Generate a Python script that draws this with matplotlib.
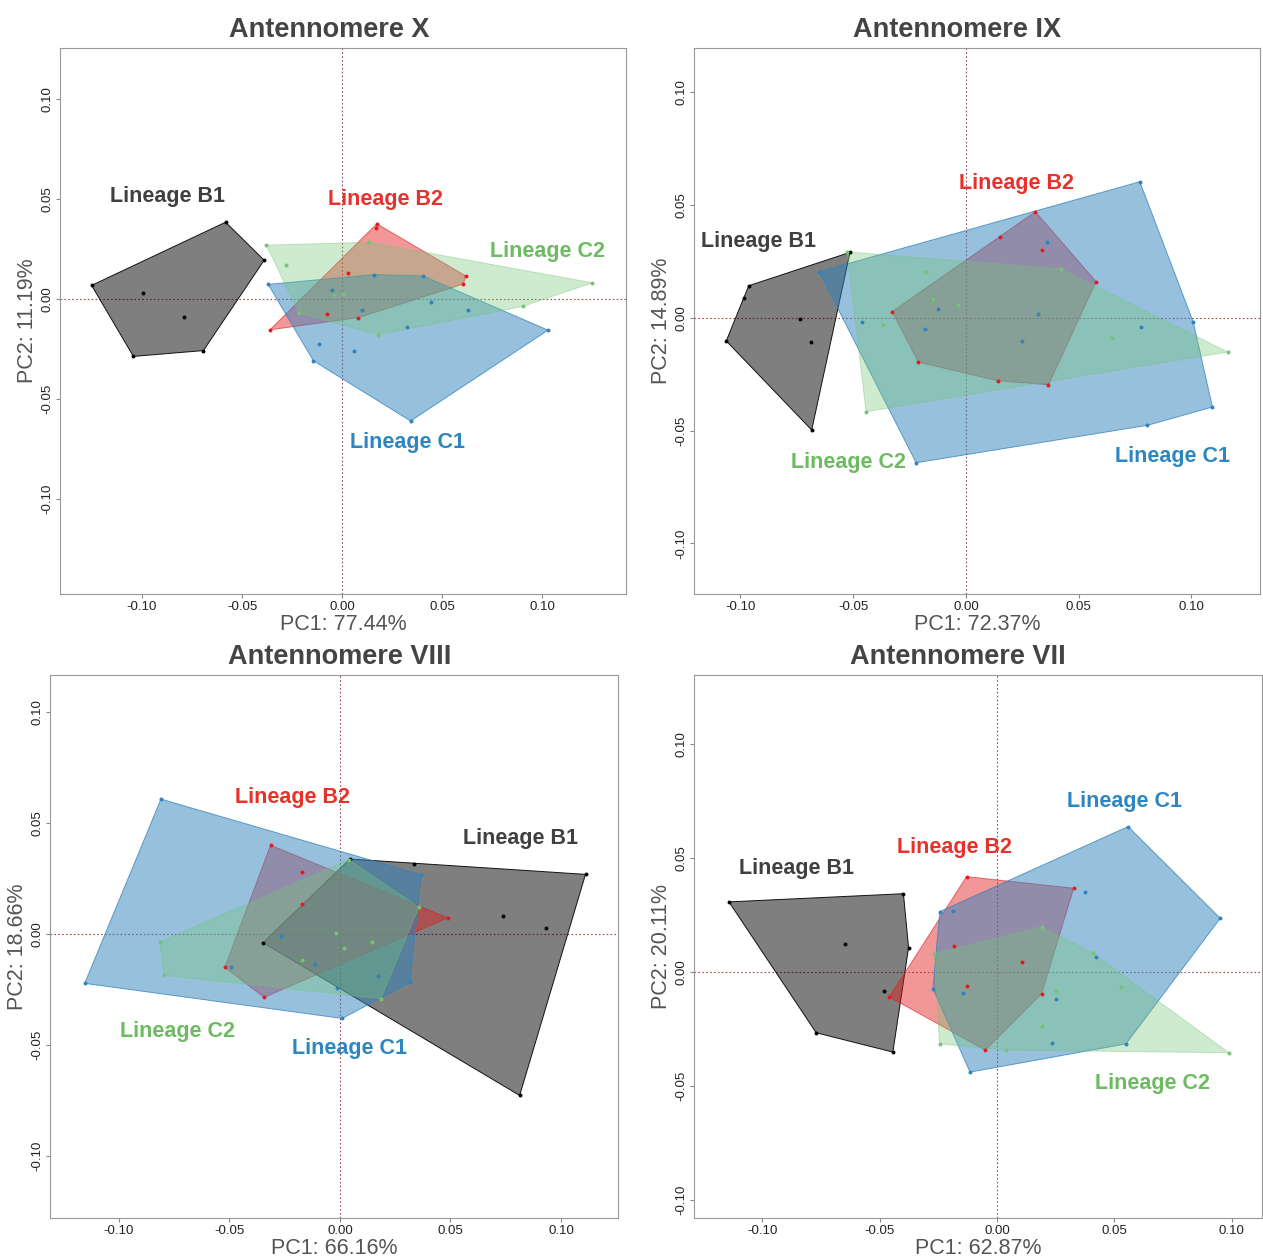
import numpy as np
import matplotlib
matplotlib.use('Agg')
import matplotlib.pyplot as plt

plt.rcParams['font.family'] = ['Liberation Sans', 'DejaVu Sans']

# Group names and colours (fill / label)
GROUPS = ['Lineage B1', 'Lineage B2', 'Lineage C1', 'Lineage C2']
FILL = {'Lineage B1': '#000000', 'Lineage B2': '#E41A1C',
        'Lineage C1': '#3182BD', 'Lineage C2': '#74C476'}
ALPHA = {'Lineage B1': 0.5, 'Lineage B2': 0.45, 'Lineage C1': 0.5, 'Lineage C2': 0.35}
EDGE_ALPHA = {'Lineage B1': 0.9, 'Lineage B2': 0.6, 'Lineage C1': 0.75, 'Lineage C2': 0.4}
TXT = {'Lineage B1': '#404040', 'Lineage B2': '#E8312A',
       'Lineage C1': '#2E86C1', 'Lineage C2': '#6DBB61'}

# ---- Antennomere X ----
x_b1 = [-0.1252, -0.0582, -0.0389, -0.0693, -0.1043, -0.0995, -0.0789]
y_b1 = [0.0068, 0.0384, 0.0194, -0.0258, -0.0287, 0.0032, -0.0090]
x_b2 = [0.0174, 0.0172, 0.0619, 0.0607, -0.0360, 0.0028, -0.0075, 0.0082]
y_b2 = [0.0376, 0.0355, 0.0115, 0.0075, -0.0154, 0.0132, -0.0077, -0.0093]
x_c1 = [-0.0369, 0.0161, 0.0406, 0.1030, 0.0343, -0.0143, -0.0052, 0.0446, 0.0632, 0.0326, -0.0115, 0.0059, 0.0100]
y_c1 = [0.0073, 0.0122, 0.0115, -0.0156, -0.0610, -0.0309, 0.0047, -0.0016, -0.0057, -0.0139, -0.0225, -0.0258, -0.0057]
x_c2 = [-0.0378, 0.0137, 0.1252, 0.0904, 0.0182, -0.0215, -0.0282, -0.0041, 0.0004]
y_c2 = [0.0269, 0.0284, 0.0081, -0.0037, -0.0179, -0.0070, 0.0169, 0.0019, 0.0026]
ant_x = {'Lineage B1': (x_b1, y_b1), 'Lineage B2': (x_b2, y_b2),
         'Lineage C1': (x_c1, y_c1), 'Lineage C2': (x_c2, y_c2)}
lab_x = {'Lineage B1': (-0.0875, 0.0511), 'Lineage B2': (0.0215, 0.0496),
         'Lineage C2': (0.1030, 0.0235), 'Lineage C1': (0.0325, -0.0718)}

# ---- Antennomere IX ----
x_b1 = [-0.0514, -0.0963, -0.0985, -0.1063, -0.0684, -0.0735, -0.0687]
y_b1 = [0.0291, 0.0143, 0.0090, -0.0102, -0.0497, -0.0003, -0.0106]
x_b2 = [0.0308, 0.0577, 0.0366, 0.0140, -0.0211, -0.0327, 0.0152, 0.0337]
y_b2 = [0.0471, 0.0161, -0.0296, -0.0278, -0.0196, 0.0028, 0.0358, 0.0300]
x_c1 = [0.0771, 0.1008, 0.1093, 0.0805, -0.0221, -0.0651, 0.0358, -0.0461, -0.0124, -0.0182, 0.0248, 0.0319, 0.0776]
y_c1 = [0.0604, -0.0018, -0.0395, -0.0476, -0.0642, 0.0205, 0.0336, -0.0016, 0.0039, -0.0049, -0.0103, 0.0018, -0.0039]
x_c2 = [-0.0527, 0.1160, -0.0443, -0.0179, 0.0421, -0.0147, -0.0034, -0.0369, 0.0648]
y_c2 = [0.0293, -0.0151, -0.0416, 0.0204, 0.0217, 0.0083, 0.0059, -0.0030, -0.0087]
ant_ix = {'Lineage B1': (x_b1, y_b1), 'Lineage B2': (x_b2, y_b2),
          'Lineage C1': (x_c1, y_c1), 'Lineage C2': (x_c2, y_c2)}
lab_ix = {'Lineage B1': (-0.0922, 0.0341), 'Lineage B2': (0.0222, 0.0594),
          'Lineage C2': (-0.0519, -0.0639), 'Lineage C1': (0.0914, -0.0616)}

# ---- Antennomere VIII ----
x_b1 = [0.0045, 0.0333, 0.1111, 0.0813, 0.0736, 0.0930, -0.0348]
y_b1 = [0.0338, 0.0317, 0.0269, -0.0727, 0.0080, 0.0028, -0.0039]
x_b2 = [-0.0314, 0.0488, -0.0343, -0.0521, -0.0172, -0.0172]
y_b2 = [0.0400, 0.0073, -0.0285, -0.0150, 0.0281, 0.0134]
x_c1 = [-0.0810, 0.0367, 0.0317, 0.0010, -0.1155, -0.0495, -0.0268, -0.0112, -0.0015, 0.0171]
y_c1 = [0.0608, 0.0267, -0.0218, -0.0380, -0.0222, -0.0150, -0.0008, -0.0134, -0.0242, -0.0189]
x_c2 = [-0.0816, -0.0796, 0.0184, 0.0357, 0.0040, -0.0019, 0.0020, 0.0146, -0.0172]
y_c2 = [-0.0036, -0.0186, -0.0291, 0.0120, 0.0335, 0.0003, -0.0064, -0.0037, -0.0118]
ant_viii = {'Lineage B1': (x_b1, y_b1), 'Lineage B2': (x_b2, y_b2),
            'Lineage C1': (x_c1, y_c1), 'Lineage C2': (x_c2, y_c2)}
lab_viii = {'Lineage B1': (0.0819, 0.0432), 'Lineage B2': (-0.0217, 0.0617),
            'Lineage C2': (-0.0733, -0.0441), 'Lineage C1': (0.0041, -0.0514)}

# ---- Antennomere VII ----
x_b1 = [-0.1143, -0.0399, -0.0377, -0.0444, -0.0771, -0.0647, -0.0483]
y_b1 = [0.0308, 0.0344, 0.0107, -0.0352, -0.0267, 0.0122, -0.0082]
x_b2 = [-0.0130, 0.0327, 0.0190, -0.0050, -0.0459, -0.0182, 0.0105, -0.0128]
y_b2 = [0.0419, 0.0368, -0.0095, -0.0343, -0.0110, 0.0116, 0.0044, -0.0063]
x_c1 = [0.0559, 0.0952, 0.0550, -0.0115, -0.0273, -0.0244, -0.0188, 0.0375, 0.0424, 0.0252, 0.0235, -0.0146]
y_c1 = [0.0639, 0.0236, -0.0316, -0.0440, -0.0073, 0.0265, 0.0268, 0.0352, 0.0067, -0.0117, -0.0313, -0.0091]
x_c2 = [0.0190, 0.0989, -0.0245, -0.0267, 0.0409, 0.0528, 0.0252, 0.0190, 0.0037]
y_c2 = [0.0199, -0.0355, -0.0316, 0.0080, 0.0082, -0.0065, -0.0082, -0.0237, -0.0343]
ant_vii = {'Lineage B1': (x_b1, y_b1), 'Lineage B2': (x_b2, y_b2),
           'Lineage C1': (x_c1, y_c1), 'Lineage C2': (x_c2, y_c2)}
lab_vii = {'Lineage B1': (-0.0857, 0.0453), 'Lineage B2': (-0.0183, 0.0545),
           'Lineage C2': (0.0665, -0.0488), 'Lineage C1': (0.0542, 0.0747)}

TICKS = [-0.10, -0.05, 0.00, 0.05, 0.10]


def hull(px, py):
    # monotone chain convex hull
    pts = sorted(set(zip(px, py)))
    def cross(o, a, b):
        return (a[0]-o[0])*(b[1]-o[1]) - (a[1]-o[1])*(b[0]-o[0])
    lower, upper = [], []
    for p in pts:
        while len(lower) >= 2 and cross(lower[-2], lower[-1], p) <= 0:
            lower.pop()
        lower.append(p)
    for p in reversed(pts):
        while len(upper) >= 2 and cross(upper[-2], upper[-1], p) <= 0:
            upper.pop()
        upper.append(p)
    return np.array(lower[:-1] + upper[:-1])


def panel(rect, data, labels, title, title_x, xlab, ylab, xlim, ylim):
    W, H = 1263, 1259
    l, t, r, b = rect
    ax = fig.add_axes([l/W, 1-b/H, (r-l)/W, (b-t)/H])
    for g in GROUPS:
        gx, gy = data[g]
        h = hull(gx, gy)
        ax.fill(h[:, 0], h[:, 1], facecolor=FILL[g], alpha=ALPHA[g], edgecolor='none', zorder=2)
        ax.fill(h[:, 0], h[:, 1], facecolor='none', edgecolor=FILL[g], lw=0.7,
                alpha=EDGE_ALPHA[g], zorder=2)
        ax.scatter(gx, gy, s=8, color=FILL[g], zorder=3, linewidths=0)
    for g, (lx, ly) in labels.items():
        ax.text(lx, ly, g, color=TXT[g], fontsize=15.5, fontweight='bold',
                ha='center', va='center', zorder=4)
    ax.axhline(0, color='#9E4A4A', lw=0.8, ls=(0, (1.5, 2)), zorder=1)
    ax.axvline(0, color='#9E4A4A', lw=0.8, ls=(0, (1.5, 2)), zorder=1)
    ax.set_xlim(*xlim)
    ax.set_ylim(*ylim)
    ax.set_xticks(TICKS)
    ax.set_yticks(TICKS)
    ax.set_xticklabels(['%.2f' % v for v in TICKS])
    ax.set_yticklabels(['%.2f' % v for v in TICKS], rotation=90, va='center')
    ax.tick_params(labelsize=9.5, length=3, color='#888888', labelcolor='#222222', pad=2)
    for s in ax.spines.values():
        s.set_color('#999999')
    ax.set_xlabel(xlab, fontsize=15.5, color='#555555', labelpad=1)
    ax.set_ylabel(ylab, fontsize=15.5, color='#555555', labelpad=2)
    ax.set_title(title, fontsize=19.5, fontweight='bold', color='#444444', x=title_x, pad=8)
    return ax


fig = plt.figure(figsize=(12.63, 12.59), dpi=100)
panel((60, 48, 626, 594), ant_x, lab_x, 'Antennomere X', 0.475,
      'PC1: 77.44%', 'PC2: 11.19%', (-0.141, 0.142), (-0.1475, 0.1255))
panel((694, 48, 1260, 594), ant_ix, lab_ix, 'Antennomere IX', 0.465,
      'PC1: 72.37%', 'PC2: 14.89%', (-0.1206, 0.1304), (-0.1224, 0.1197))
panel((50, 675, 618, 1218), ant_viii, lab_viii, 'Antennomere VIII', 0.51,
      'PC1: 66.16%', 'PC2: 18.66%', (-0.1312, 0.1258), (-0.1279, 0.1167))
panel((694, 675, 1262, 1218), ant_vii, lab_vii, 'Antennomere VII', 0.465,
      'PC1: 62.87%', 'PC2: 20.11%', (-0.1292, 0.1130), (-0.1081, 0.1305))

fig.savefig('out.png', dpi=100)
